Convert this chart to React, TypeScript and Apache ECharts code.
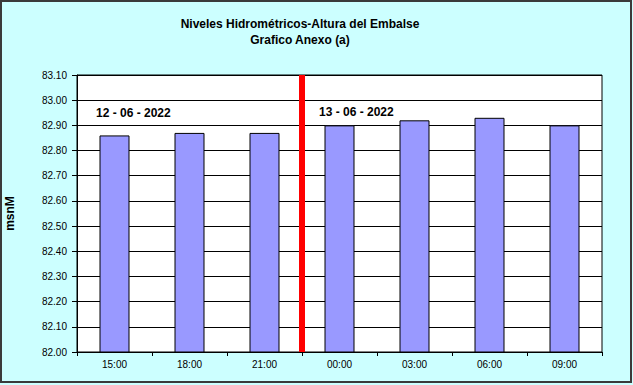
import React, { useEffect, useRef } from "react";
import * as echarts from "echarts";

const categories = ["15:00", "18:00", "21:00", "00:00", "03:00", "06:00", "09:00"];
const levels = [82.86, 82.87, 82.87, 82.9, 82.92, 82.93, 82.9];
const dayLabels = ["12 - 06 - 2022", "13 - 06 - 2022"];
const dayBoundary = 3; // boundary between 21:00 and 00:00 (category index)
const yMin = 82.0;
const yMax = 83.1;
const yStep = 0.1;
const titleLines = ["Niveles Hidrométricos-Altura del Embalse", "Grafico Anexo (a)"];
const yName = "msnM";

const FONT = "'Liberation Sans', Arial, sans-serif";

export default function App() {
  const ref = useRef<HTMLDivElement>(null);
  useEffect(() => {
    document.body.style.margin = "0";
    const chart = echarts.init(ref.current!, null, { renderer: "svg" });
    chart.setOption({
      animation: false,
      backgroundColor: "#CCFFFF",
      textStyle: { fontFamily: FONT },
      grid: {
        left: 77,
        right: 31,
        top: 75,
        bottom: 33,
        containLabel: false,
        outerBoundsMode: "none",
        show: true,
        backgroundColor: "#ffffff",
        borderColor: "#000000",
        borderWidth: 1,
      },
      graphic: [
        {
          type: "rect",
          shape: { x: 1, y: 1, width: 630, height: 381 },
          style: { fill: "none", stroke: "#3a3a3a", lineWidth: 2 },
          silent: true,
        },
        {
          type: "text",
          x: 300,
          y: 24,
          style: {
            text: titleLines[0],
            align: "center",
            verticalAlign: "middle",
            font: `bold 12px ${FONT}`,
            fill: "#000",
          },
        },
        {
          type: "text",
          x: 300,
          y: 40,
          style: {
            text: titleLines[1],
            align: "center",
            verticalAlign: "middle",
            font: `bold 12px ${FONT}`,
            fill: "#000",
          },
        },
        {
          type: "text",
          x: 96,
          y: 113,
          z: 10,
          style: {
            text: dayLabels[0],
            align: "left",
            verticalAlign: "middle",
            font: `bold 12px ${FONT}`,
            fill: "#000",
          },
        },
        {
          type: "text",
          x: 319,
          y: 112,
          z: 10,
          style: {
            text: dayLabels[1],
            align: "left",
            verticalAlign: "middle",
            font: `bold 12px ${FONT}`,
            fill: "#000",
          },
        },
      ],
      xAxis: [
        {
          type: "category",
          data: categories,
          axisLine: { lineStyle: { color: "#000", width: 1 } },
          axisTick: { show: true, length: 4, lineStyle: { color: "#000" } },
          axisLabel: { color: "#000", fontSize: 10, fontFamily: FONT, margin: 7 },
          splitLine: { show: false },
        },
        {
          type: "value",
          min: 0,
          max: categories.length,
          show: false,
        },
      ],
      yAxis: {
        type: "value",
        min: yMin,
        max: yMax,
        interval: yStep,
        name: yName,
        nameLocation: "middle",
        nameRotate: 90,
        nameGap: 61,
        nameTextStyle: { color: "#000", fontSize: 12, fontWeight: "bold", fontFamily: FONT },
        axisLine: { show: true, lineStyle: { color: "#000", width: 1 } },
        axisTick: { show: true, length: 5, lineStyle: { color: "#000" } },
        axisLabel: {
          color: "#000",
          fontSize: 10,
          fontFamily: FONT,
          margin: 10,
          formatter: (v: number) => v.toFixed(2),
        },
        splitLine: { show: true, lineStyle: { color: "#000", width: 1 } },
      },
      series: [
        {
          type: "bar",
          data: levels,
          barWidth: 30,
          itemStyle: { color: "#9999FF", borderColor: "#000", borderWidth: 1 },
        },
        {
          type: "line",
          xAxisIndex: 1,
          data: [
            [dayBoundary, yMin],
            [dayBoundary, yMax],
          ],
          symbol: "none",
          lineStyle: { color: "#FF0000", width: 6 },
          z: 5,
        },
      ],
    });
    return () => chart.dispose();
  }, []);
  return <div ref={ref} style={{ width: 633, height: 385 }} />;
}
